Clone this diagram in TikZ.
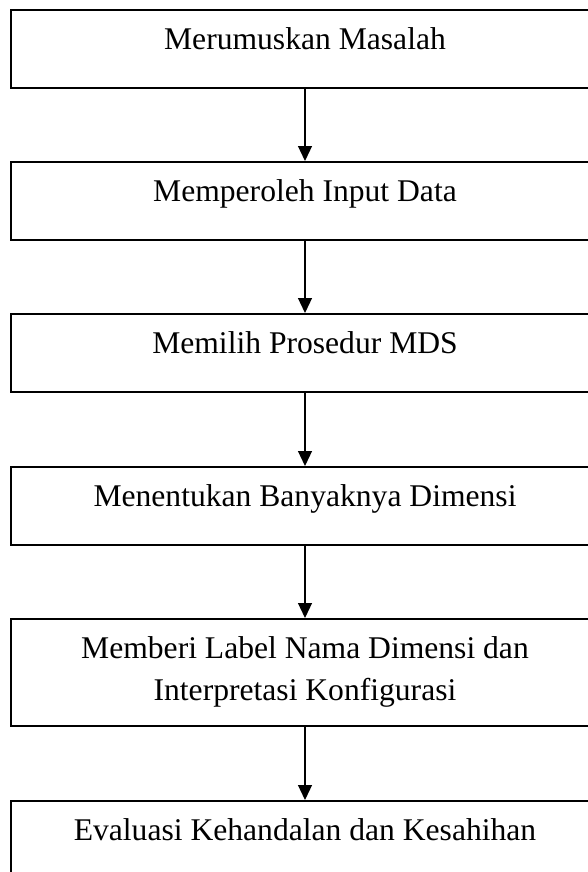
\documentclass[tikz,border=0pt]{standalone}
\usepackage{fontspec}
\setmainfont{Liberation Serif}
\usetikzlibrary{arrows.meta}

\tikzset{
  stepbox/.style={draw, line width=0.9pt, anchor=north, inner sep=0pt,
    minimum width=294pt, minimum height=39pt, align=center,
    font=\fontsize{15.8}{21}\selectfont},
  oneline/.style={text height=11pt, text depth=10.6pt},
  flowarrow/.style={line width=0.6pt, -{Triangle[width=7pt, length=7.5pt]}}
}

\begin{document}
\begin{tikzpicture}[x=0.5pt, y=-0.5pt]

% ================================================================
% Page frame (pixel units, y downwards)
% ================================================================
\useasboundingbox[fill=white] (0,0) rectangle (588,872);

% ================================================================
% Steps of the MDS procedure
% ================================================================
\node[stepbox, oneline] (rumus) at (305,9) {Merumuskan Masalah};
\node[stepbox, oneline] (input) at (305,161) {Memperoleh Input Data};
\node[stepbox, oneline] (prosedur) at (305,313) {Memilih Prosedur MDS};
\node[stepbox, oneline] (dimensi) at (305,466) {Menentukan Banyaknya Dimensi};
\node[stepbox, minimum height=53.5pt] (label) at (305,618)
  {Memberi Label Nama Dimensi dan\\Interpretasi Konfigurasi};
\node[stepbox, oneline] (evaluasi) at (305,800) {Evaluasi Kehandalan dan Kesahihan};

% ================================================================
% Flow arrows
% ================================================================
\draw[flowarrow] (rumus) -- (input);
\draw[flowarrow] (input) -- (prosedur);
\draw[flowarrow] (prosedur) -- (dimensi);
\draw[flowarrow] (dimensi) -- (label);
\draw[flowarrow] (label) -- (evaluasi);

\end{tikzpicture}
\end{document}
